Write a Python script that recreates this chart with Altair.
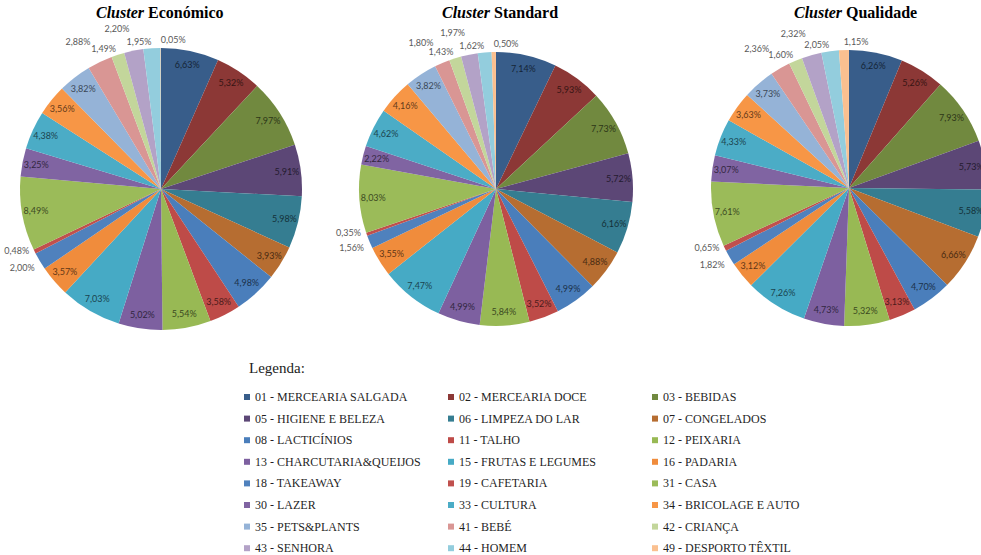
import altair as alt
import pandas as pd

categories = [
    "01 - MERCEARIA SALGADA", "02 - MERCEARIA DOCE", "03 - BEBIDAS",
    "05 - HIGIENE E BELEZA", "06 - LIMPEZA DO LAR", "07 - CONGELADOS",
    "08 - LACTICÍNIOS", "11 - TALHO", "12 - PEIXARIA",
    "13 - CHARCUTARIA&QUEIJOS", "15 - FRUTAS E LEGUMES", "16 - PADARIA",
    "18 - TAKEAWAY", "19 - CAFETARIA", "31 - CASA",
    "30 - LAZER", "33 - CULTURA", "34 - BRICOLAGE E AUTO",
    "35 - PETS&PLANTS", "41 - BEBÉ", "42 - CRIANÇA",
    "43 - SENHORA", "44 - HOMEM", "49 - DESPORTO TÊXTIL",
]
colors = [
    "#385D8A", "#8C3836", "#71893F", "#5C4776", "#357D91", "#B66D31",
    "#4A7EBB", "#BE4B48", "#98B954", "#7D60A0", "#46AAC5", "#F08C3C",
    "#4F81BD", "#C0504D", "#9BBB59", "#8064A2", "#4BACC6", "#F79646",
    "#95B3D7", "#D99694", "#C3D69B", "#B3A2C7", "#93CDDD", "#FAC090",
]
economico = [6.63, 5.32, 7.97, 5.91, 5.98, 3.93, 4.98, 3.58, 5.54, 5.02, 7.03, 3.57,
             2.00, 0.48, 8.49, 3.25, 4.38, 3.56, 3.82, 2.88, 1.49, 2.20, 1.95, 0.05]
standard = [7.14, 5.93, 7.73, 5.72, 6.16, 4.88, 4.99, 3.52, 5.84, 4.99, 7.47, 3.55,
            1.56, 0.35, 8.03, 2.22, 4.62, 4.16, 3.82, 1.80, 1.43, 1.97, 1.62, 0.50]
qualidade = [6.26, 5.26, 7.93, 5.73, 5.58, 6.66, 4.70, 3.13, 5.32, 4.73, 7.26, 3.12,
             1.82, 0.65, 7.61, 3.07, 4.33, 3.63, 3.73, 2.36, 1.60, 2.32, 2.05, 1.15]
clusters = ["Económico", "Standard", "Qualidade"]
series = [economico, standard, qualidade]

rows = []
for cl, vals in zip(clusters, series):
    for i, (c, v) in enumerate(zip(categories, vals)):
        rows.append({"cluster": cl, "idx": i, "cat": c, "v": v})
df = pd.DataFrame(rows)

# Vega fills a multi-column legend column by column: reorder the domain so it
# reads row by row (3 columns x 8 rows) like the reference.
NCOL, NROW = 3, 8
legend_order = [r * NCOL + c for c in range(NCOL) for r in range(NROW)]
dom = [categories[k] for k in legend_order]
rng = [colors[k] for k in legend_order]

LABEL_FONT = "Lato"


def pie(name, cx, cy, r, first=False):
    base = (
        alt.Chart(df)
        .transform_filter(alt.datum.cluster == name)
        .transform_window(cum="sum(v)", sort=[alt.SortField("idx")])
        .transform_calculate(
            mid="datum.cum - datum.v / 2",
            ang="(datum.cum - datum.v / 2) / 100 * 360",
            lab="replace(format(datum.v, '.2f'), '.', ',') + '%'",
        )
        .transform_calculate(
            inside="datum.v >= 2.9 || (datum.v >= 2 && abs(sin(datum.ang * PI / 180)) > 0.95)"
        )
        .transform_calculate(
            grp="datum.inside ? 'in' : (datum.ang >= 357 || datum.ang < 180) ? 'right'"
                " : datum.ang >= 300 ? 'top' : 'left'"
        )
        .transform_window(
            k="row_number()", groupby=["grp"], sort=[alt.SortField("idx", order="descending")]
        )
        .transform_calculate(
            tin="datum.grp == 'in' ? datum.lab : ''",
            tright="datum.grp == 'right' ? datum.lab : ''",
            ttop="datum.grp == 'top' ? datum.lab : ''",
            tleft1="(datum.grp == 'left' && datum.k % 2 == 1) ? datum.lab : ''",
            tleft2="(datum.grp == 'left' && datum.k % 2 == 0) ? datum.lab : ''",
            rad=f"{r} + 6 + ((datum.grp == 'top' && datum.k % 2 == 0) ? 16 : 0)",
        )
    )
    pos = dict(x=alt.value(cx), y=alt.value(cy))
    theta_mid = alt.Theta("mid:Q", stack=False)
    legend = None
    if first:
        legend = alt.Legend(
            title=None, orient="none", legendX=241, legendY=391, columns=3,
            gridAlign="all", columnPadding=24, rowPadding=9.6,
            symbolType="square", symbolSize=36, symbolStrokeWidth=0,
            labelFont="Liberation Serif", labelFontSize=12, labelColor="#1f1f1f",
            labelOffset=2, labelLimit=0, padding=0,
        )
    arc = base.mark_arc(radius=r).encode(
        theta=alt.Theta("v:Q", stack=True),
        order=alt.Order("idx:Q", sort="ascending"),
        color=alt.Color("cat:N", scale=alt.Scale(domain=dom, range=rng),
                        sort=dom, legend=legend),
        **pos,
    )
    tin = base.mark_text(radius=r - 14, font=LABEL_FONT, fontSize=9,
                         color="black", opacity=0.62).encode(
        theta=theta_mid, text="tin:N", **pos)
    out_style = dict(font=LABEL_FONT, fontSize=9, color="#595959")
    tright = base.mark_text(align="left", radius=r + 8, **out_style).encode(
        theta=theta_mid, text="tright:N", **pos)
    ttop = base.mark_text(align="right", **out_style).encode(
        theta=theta_mid, radius=alt.Radius("rad:Q", scale=None), text="ttop:N", **pos)
    tleft1 = base.mark_text(align="right", radius=r + 6, dy=-3, **out_style).encode(
        theta=theta_mid, text="tleft1:N", **pos)
    tleft2 = base.mark_text(align="right", radius=r + 6, dy=4, **out_style).encode(
        theta=theta_mid, text="tleft2:N", **pos)
    return [arc, tin, tright, ttop, tleft1, tleft2]


def title_parts(rest, split, y=18):
    blank = alt.Data(values=[{}])
    a = alt.Chart(blank).mark_text(
        text="Cluster", font="Liberation Serif", fontSize=16, fontStyle="italic",
        fontWeight="bold", align="right", baseline="alphabetic", color="black"
    ).encode(x=alt.value(split), y=alt.value(y))
    b = alt.Chart(blank).mark_text(
        text=rest, font="Liberation Serif", fontSize=16, fontWeight="bold",
        align="left", baseline="alphabetic", color="black"
    ).encode(x=alt.value(split + 4), y=alt.value(y))
    return [a, b]


layers = []
layers += pie("Económico", 161, 189, 141, first=True)
layers += pie("Standard", 496, 189, 137)
layers += pie("Qualidade", 849, 188, 138)
layers += title_parts("Económico", 144)
layers += title_parts("Standard", 490)
layers += title_parts("Qualidade", 842)
layers.append(
    alt.Chart(alt.Data(values=[{}])).mark_text(
        text="Legenda:", font="Liberation Serif", fontSize=15, align="left",
        baseline="alphabetic", color="#222222"
    ).encode(x=alt.value(249), y=alt.value(373))
)

chart = (
    alt.layer(*layers)
    .resolve_scale(theta="shared")
    .properties(width=981, height=555, padding=0, autosize=alt.AutoSizeParams(type="none"),
                background="white")
    .configure_view(strokeWidth=0)
)
chart.save("out.html", embed_options={"renderer": "svg", "actions": False})
